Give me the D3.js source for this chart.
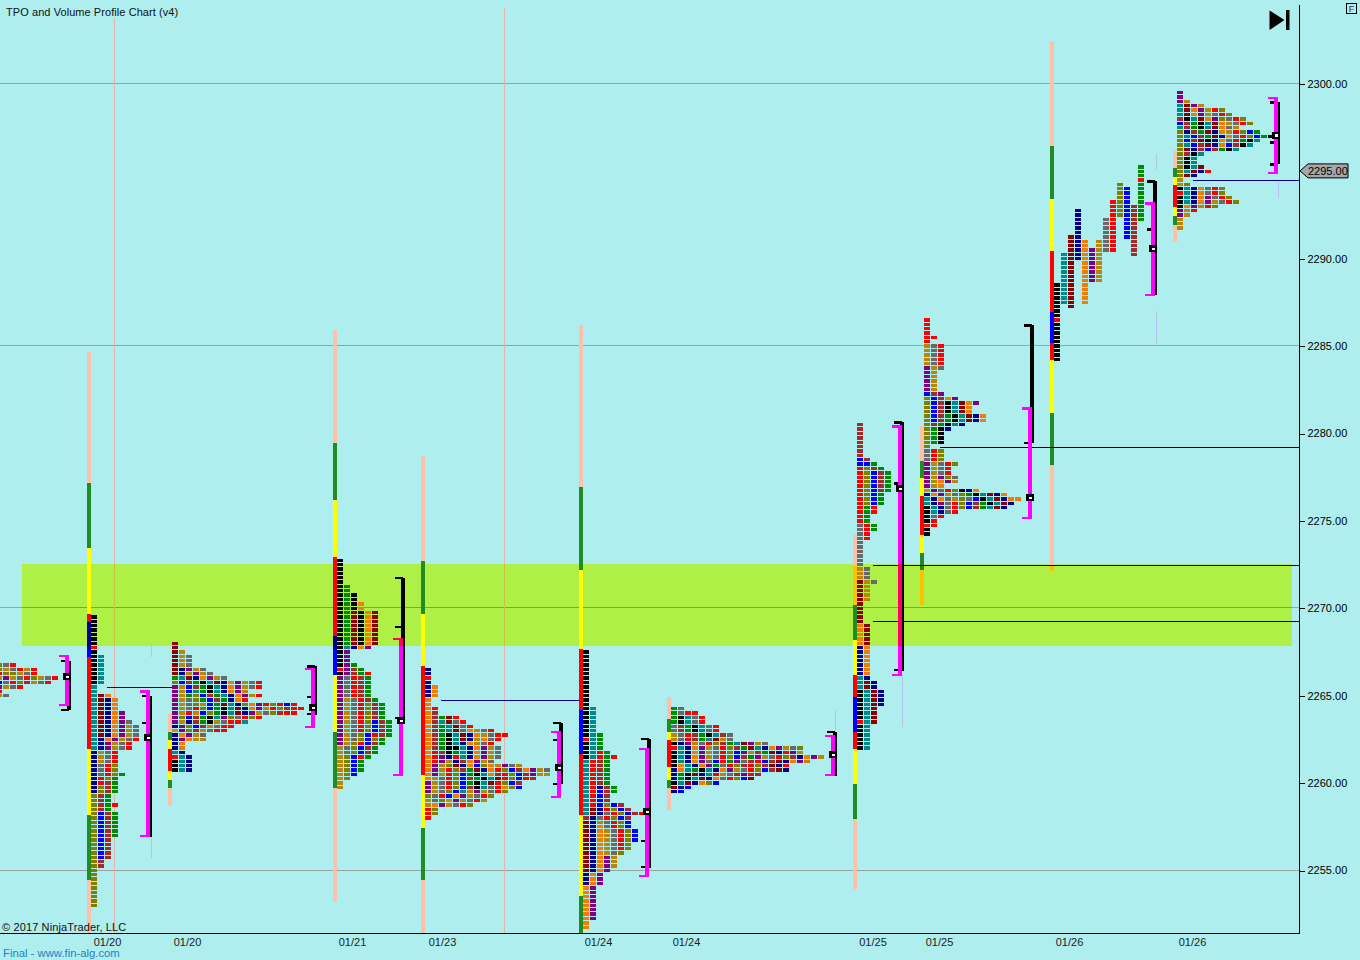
<!DOCTYPE html>
<html><head><meta charset="utf-8">
<script src="https://cdn.jsdelivr.net/npm/d3@7"></script>
<style>html,body{margin:0;padding:0;background:#afeeee;overflow:hidden}svg{display:block}text{font-family:"Liberation Sans",Arial,sans-serif}</style>
</head><body><svg id="c" width="1360" height="960"></svg>
<script>
// ---- palette letters
const tpoColors={k:"#000000",r:"#ff0000",R:"#8b0000",o:"#f57c00",b:"#0000ff",n:"#00008b",g:"#008b00",t:"#008b8b",p:"#800080",y:"#808000",a:"#b8860b",s:"#696969",B:"#a52a2a"};
const barColors={P:"#ffc0a8",G:"#228b22",Y:"#ffff00",R:"#ff0000",N:"#00008b",B:"#0000ff",O:"#ffc000"};
// ---- axis values
const priceTicks=[2300,2295,2290,2285,2280,2275,2270,2265,2260,2255];
const priceGrid=[2300,2285,2270,2255];
const dateTickPos=[107,187,352,442,598,686,872.5,939,1069,1192];
const dateTickLabels=["01/20","01/20","01/21","01/23","01/24","01/24","01/25","01/25","01/26","01/26"];
const sessionLines=[[114,2303.78],[504,2304.35]];
const limeBand=[2272.54,2267.85];
const lastPrice=2295;
// ---- level lines [price,x0,x1,colour]
const levelLines=[[2279.25,940,1299,"#000000"],[2272.5,873,1299,"#000000"],[2269.25,873,1299,"#000000"],[2265.5,107,172,"#00008b"],[2264.75,441,579,"#00008b"],[2294.5,1193,1299,"#00008b"]];
// ---- range bars beside each profile [x, [colour, top, bottom]...]
const bar1=[87,["P",2284.75,2277.25],["G",2277.25,2273.5],["Y",2273.5,2269.75],["R",2269.75,2269.25],["N",2269.25,2267.75],["B",2267.75,2267.25],["R",2267.25,2262],["Y",2262,2258.25],["G",2258.25,2254.5],["P",2254.5,2251.5]];
const bar2=[168,["P",2264,2263],["G",2263,2262.5],["Y",2262.5,2262],["R",2262,2260.75],["Y",2260.75,2260.25],["G",2260.25,2259.75],["P",2259.75,2258.75]];
const bar3=[333,["P",2286,2279.5],["G",2279.5,2276.25],["Y",2276.25,2273],["R",2273,2268.5],["N",2268.5,2267.75],["B",2267.75,2266.25],["Y",2266.25,2263],["G",2263,2259.75],["P",2259.75,2253.25]];
const bar4=[421,["P",2278.75,2272.75],["G",2272.75,2269.75],["Y",2269.75,2266.75],["R",2266.75,2260.5],["Y",2260.5,2257.5],["G",2257.5,2254.5],["P",2254.5,2251.5]];
const bar5=[579,["P",2286.25,2277],["G",2277,2272.25],["Y",2272.25,2267.75],["R",2267.75,2264.25],["B",2264.25,2261.75],["R",2261.75,2258.25],["Y",2258.25,2253.6],["G",2253.6,2251.5]];
const bar6=[667,["P",2265,2263.75],["G",2263.75,2263],["Y",2263,2262.5],["R",2262.5,2261],["Y",2261,2260.25],["G",2260.25,2259.75],["P",2259.75,2258.5]];
const bar7=[853,["P",2274.25,2272.5],["O",2272.5,2270.25],["G",2270.25,2268.25],["Y",2268.25,2266.25],["R",2266.25,2265],["B",2265,2263],["R",2263,2262],["Y",2262,2260],["G",2260,2258],["P",2258,2254]];
const bar8=[920,["P",2280.5,2278.5],["G",2278.5,2277.5],["Y",2277.5,2276.5],["R",2276.5,2274.25],["Y",2274.25,2273.25],["G",2273.25,2272.25],["O",2272.25,2270.25]];
const bar9=[1050,["P",2302.5,2296.5],["G",2296.5,2293.5],["Y",2293.5,2290.5],["R",2290.5,2287],["B",2287,2285.25],["R",2285.25,2284.25],["Y",2284.25,2281.25],["G",2281.25,2278.25],["P",2278.25,2272.5],["O",2272.5,2272.2]];
const bar10=[1173,["P",2296.25,2295.25],["G",2295.25,2294.75],["Y",2294.75,2294.25],["R",2294.25,2293],["Y",2293,2292.5],["G",2292.5,2292],["P",2292,2291]];
const rangeBars=[bar1,bar2,bar3,bar4,bar5,bar6,bar7,bar8,bar9,bar10];
// ---- TPO rows, top row first: each string = one price row, one letter per print
const rowsA=["ysr","yasrar","ryyasr","apasryasr","bsryBasr","pasr","r","as"];
const rows1=["k","k","k","k","k","k","k","r","k","kt","kt","kt","kt","kt","kt","kt","t","t","tRo","tRno","tRno","tRno","tRnop","tRnop","tRnops","tRnopas","tRnopas","tRnopas","tnopasr","tnpasr","tnpasr","nasr","nasr","nasr","nsry","nsry","nsryg","nryg","nrBg","nyBg","nyBg","yBg","yBg","yBgr","yBg","ybBg","ybBg","ybBg","ybBg","ybBg","ybBg","ybB","ybB","ybB","ybB","ybB","yB","yB","y","y","y","y","y","y","y","y","y"];
const rows2=["R","R","Ra","Ras","Ras","Ras","Rnpas","Rnapas","gtRnopas","ybBgktRnopasr","pabBgktnopasr","pabtgktnopa","pagybBgtnopar","pasygbBgnor","pasyabgRtnyopryrbr","pasrybgktRnoparyBrr","parabygktRnpasyBrr","pybBgktpysryr","panBgkasrrt","npybBasrr","opyBasrr","nopas","npoaa","no","no","tn","rtn","ktn","ktn","ktn"];
const rows3=["k","k","k","k","k","k","kg","kg","kgk","kgk","kgko","kgko","kgRkoR","kgRkoR","kgRkoR","kgRkoR","kgRkoR","kgRkoR","kgRkoR","kgRkoR","ktnop","kp","kp","kp","kpg","rpBg","kpBgr","psrBg","psrBg","psrBg","psrBg","psrBg","pasrBg","pasryBg","pasryBg","pasryBg","pasryBg","pasrybBg","pasrybBg","pasrybBg","pasybrBg","pasybyg","payrbBg","asybBg","asybBg","aybrg","aybg","aybg","aybg","ayb","ay","a","a"];
const rows4=["n","n","r","n","no","no","no","o","o","or","oB","oBgRr","oBtRsr","oBgtRsr","oBgtRsoasr","oBgktRnoasrr","oBgktRnaosr","oBgktnoasr","oBgkktnopas","orBkgtnopas","orpnrtnopas","orpanBopas","opayRnobyoapsa","oparyBgRnorybBopas","oparybgktoBrybBpaa","oasrybBgktRrybrB","pasrybgktRrybB","pasrybBktsroyb","pasybtapasry","ysrbopasry","asyopasra","aopasry","ry","ry","r"];
const rows5=["k","k","k","k","k","k","k","k","k","k","k","k","k","kt","kt","kt","kt","kt","kt","ktg","rtg","ktg","ktg","ktrg","ktrgr","trBg","trBg","trBg","trBg","trBg","trBg","trnBg","trbBg","trbB","trbB","trbybB","tRnrybB","tRnsrybBr","BnsrybB","Rnasryb","Rnosryb","Rnoasryb","Rnoasryb","Rnoasryb","Rnoasry","Rnoasry","Rnoasy","Rnopa","Rnopa","Rnopa","Rnop","nop","nop","nop","op","op","op","op","op","op","op","op","o","o"];
const rows6=["gs","gsrr","gktsr","gktsr","sBgktsr","sBgktsr","asrBgktBs","asrBgtRas","knpasryBgtRpas","rtnopasryBgRtnopasy","ktnopasrybpaBgRnrpa","ktnopasrybBgpasryBnopa","ktnopsbrgpsBrbBRnopa","kotnopgsryBryBRnr","notgktnopasrybBRn","ngkRntrasBprB","ngktRnosrybR","ktRnoyb","Rnb","nb"];
const rows7=["B","B","B","B","B","B","B","B","bB","bbg","ryBg","rybBg","rybBg","rybBg","rybBg","rybBg","rybg","rybg","rybg","rgr","rgr","rg","rg","srg","srg","sr","sr","s","s","s","s","s","s","as","as","as","Ras","Ra","Ra","Ra","Ra","R","R","R","R","R","oR","oR","oR","oR","oR","no","no","no","no","no","no","no","tn","tRn","tRn","ktRn","ktRn","ktRn","ktRn","ktR","ktR","ktR","rtR","kt","kt","kt","kt","kt","kt"];
const rows8=["r","r","r","r","rr","r","asr","asr","asr","asr","asr","pas","pa","pa","pa","pa","pa","bBp","ybBop","ybBktRop","ybBktRo","ybBktRo","ybBgktRno","ybBgktRno","yBgktn","ygkn","ygk","ygk","ygk","y","sry","sry","sry","pasry","pasr","pasr","papys","paopa","pao","opsrykno","nopasygktRno","tnosaysbktRnoo","tnpsrybBgktRn","ktnsrybBgtRn","ktnsr","ksr","kr","rr","k","k"];
const rows10=["p","p","pa","tRpa","tRopary","tRopasry","BktRopysry","bBgktRoasry","tBgktRosa","ynBgRnoarybg","ytbBgRnosrybgk","ybBRknosrgkt","ytbBRnobBkt","yRnBbBgkt","yBkt","ykt","ykt","yktR","ytRnr","yRn","a","ay","ktnosry","rtnosry","ktnopsry","ktnopasry","kopary","par","pa","a","a","a"];
// profile 9 is made of long single-letter columns: [letter, top price, bottom price]
const cols9=[["k",2288.5,2284.25],["t",2290.25,2287.5],["R",2291.25,2287.25],["n",2292.75,2290],["o",2291,2287.5],["p",2290.5,2288.75],["a",2291,2288.75],["s",2292.25,2290.5],["r",2293.25,2290.5],["y",2294.25,2292.5],["b",2294,2291.25],["B",2293,2290.25],["g",2295.25,2292.25]];
const cols9Override=[["r",0,2286.5],["r",12,2294.5]];
// ---- profile placement: [first-column x, top price, rows]
const profiles=[[-4,2266.75,rowsA],[91,2269.5,rows1],[172,2268,rows2],[337,2272.75,rows3],[425,2266.5,rows4],[583,2267.5,rows5],[671,2264.25,rows6],[857,2280.5,rows7],[924,2286.5,rows8],[1177,2299.5,rows10]];
const profile9X=1054;
// ---- value-area brackets: x, magenta top/bottom, black top/bottom, poc, black ticks
const brackets=[
[65,2267.28,2264.47,2266.99,2264.19,2266.08,[2266.99,2264.19]],
[146,2265.27,2256.98,2264.99,2256.92,2262.59,[2264.99,2263.44]],
[311,2266.53,2263.22,2266.7,2263.9,2264.3,[2266.7,2264.93,2263.96]],
[399,2268.25,2260.47,2271.74,2263.62,2263.56,[2271.74,2268.94,2263.73]],
[557,2262.93,2259.21,2263.44,2259.95,2260.87,[2263.44,2262.47,2259.95]],
[645,2261.96,2254.69,2262.53,2255.15,2258.35,[2262.53,2256.69,2255.21]],
[831,2262.7,2260.47,2262.93,2260.41,2261.61,[2262.93]],
[898,2280.43,2266.19,2280.66,2266.42,2276.83,[2280.66,2277.17,2266.48]],
[1028,2281.46,2275.17,2286.21,2279.46,2276.32,[2286.21,2279.46]],
[1151,2293.19,2287.93,2294.45,2287.93,2290.56,[2294.45,2291.7]],
[1274,2299.2,2294.91,2298.97,2295.42,2297.08,[2298.97,2296.68,2295.42]]];
// ---- faint thin marks [x, top price, bottom price]
const faintMarks=[[151,2268.1,2267.2],[151,2257,2255.7],[316,2266.9,2265.8],[902,2266.2,2263.2],[835,2264.2,2263],[1156,2296,2295.1],[1156,2287,2285.1],[1278,2294.4,2293.5]];

const W=1300,BOTTOM=934,STEP=0.25;
const svg=d3.select("#c");
const x=d3.scaleLinear().domain([0,W]).range([0,W]);
const y=d3.scaleLinear().domain([2300,2255]).range([84,870.5]);
const crisp=g=>g.attr("shape-rendering","crispEdges");

svg.append("rect").attr("width",1360).attr("height",960).attr("fill","#afeeee");
// grid
const grid=svg.append("g").call(crisp);
grid.selectAll("line").data(priceGrid).join("line").attr("x1",0).attr("x2",x(W))
 .attr("y1",d=>Math.round(y(d))-.5).attr("y2",d=>Math.round(y(d))-.5).attr("stroke","#9aa4a4");
// lime band
const lime=svg.append("g").call(crisp);
lime.append("rect").attr("x",x(22)).attr("width",x(1292)-x(22)).attr("y",y(limeBand[0])).attr("height",y(limeBand[1])-y(limeBand[0])).attr("fill","#aef046");
lime.selectAll("line").data(priceGrid.filter(p=>p<limeBand[0]&&p>limeBand[1])).join("line").attr("x1",x(22)).attr("x2",x(1292))
 .attr("y1",d=>Math.round(y(d))-.5).attr("y2",d=>Math.round(y(d))-.5).attr("stroke","#8ea80a");
// session lines
const sess=svg.append("g").call(crisp);
sess.selectAll("line").data(sessionLines).join("line").attr("x1",d=>x(d[0])+.5).attr("x2",d=>x(d[0])+.5)
 .attr("y1",d=>y(d[1])).attr("y2",BOTTOM).attr("stroke","#e6b4ac");
sess.selectAll("line.l").data(sessionLines).join("line").attr("class","l").attr("x1",d=>x(d[0])+.5).attr("x2",d=>x(d[0])+.5)
 .attr("y1",y(limeBand[0])).attr("y2",y(limeBand[1])).attr("stroke","#c8c048");
// faint marks
svg.append("g").selectAll("line").data(faintMarks).join("line").attr("x1",d=>x(d[0])+.5).attr("x2",d=>x(d[0])+.5)
 .attr("y1",d=>y(d[1])).attr("y2",d=>y(d[2])).attr("stroke","#b4c4f0").attr("shape-rendering","crispEdges");
// range bars
const segs=rangeBars.flatMap(b=>b.slice(1).map(s=>({x:b[0],c:s[0],t:s[1],b:s[2]})));
svg.append("g").call(crisp).selectAll("rect").data(segs).join("rect")
 .attr("x",d=>x(d.x)).attr("width",4)
 .attr("y",d=>Math.round(y(d.t))+1).attr("height",d=>Math.round(y(d.b))-Math.round(y(d.t)))
 .attr("fill",d=>barColors[d.c]);
// TPO cells
const rowTop=p=>Math.round(y(p)-1.75);
const cells=[];
profiles.forEach(([px,top,rows])=>rows.forEach((row,i)=>[...row].forEach((ch,j)=>cells.push({x:px+j*7,p:top-i*STEP,c:ch}))));
cols9.forEach(([ch,t,b],j)=>{for(let p=t;p>=b;p-=STEP)cells.push({x:profile9X+j*7,p,c:ch});});
cols9Override.forEach(([ch,j,t])=>cells.push({x:profile9X+j*7,p:t,c:ch}));
svg.append("g").call(crisp).selectAll("rect").data(cells).join("rect")
 .attr("x",d=>x(d.x)).attr("width",6)
 .attr("y",d=>rowTop(d.p)).attr("height",d=>rowTop(d.p-STEP)-rowTop(d.p)-1)
 .attr("fill",d=>tpoColors[d.c]);
// level lines
svg.append("g").call(crisp).selectAll("line").data(levelLines).join("line")
 .attr("x1",d=>x(d[1])).attr("x2",d=>x(d[2])).attr("y1",d=>Math.round(y(d[0]))+.5).attr("y2",d=>Math.round(y(d[0]))+.5).attr("stroke",d=>d[3]);
// brackets
const br=svg.append("g").call(crisp);
const MAG="#ff00ff",MAGLIME="#ff0060";
brackets.forEach(([bx,mt,mb,kt,kb,poc,ticks])=>{
  const g=br.append("g");
  g.append("rect").attr("x",x(bx+2)).attr("width",4).attr("y",y(kt)).attr("height",y(kb)-y(kt)).attr("fill","#000");
  g.selectAll("rect.t").data(ticks).join("rect").attr("class","t").attr("x",x(bx-4)).attr("width",8).attr("y",d=>y(d)-1).attr("height",2.5).attr("fill","#000");
  g.append("rect").attr("x",x(bx)).attr("width",4).attr("y",y(mt)).attr("height",y(mb)-y(mt)).attr("fill",MAG);
  const lt=Math.min(mt,limeBand[0]),lb=Math.max(mb,limeBand[1]);
  if(lt>lb) g.append("rect").attr("x",x(bx)).attr("width",4).attr("y",y(lt)).attr("height",y(lb)-y(lt)).attr("fill",MAGLIME);
  g.selectAll("rect.s").data([mt,mb]).join("rect").attr("class","s").attr("x",x(bx-6)).attr("width",10).attr("y",d=>y(d)-1).attr("height",2.5)
   .attr("fill",d=>(d<limeBand[0]&&d>limeBand[1])?MAGLIME:MAG);
  g.append("rect").attr("x",x(bx-2)).attr("width",8).attr("y",y(poc)-3.5).attr("height",7).attr("fill","#000");
  g.append("rect").attr("x",x(bx)+1).attr("width",3).attr("y",y(poc)-1).attr("height",2.5).attr("fill","#fff");
});
// axes
const yAxis=d3.axisRight(y).tickValues(priceTicks).tickSize(5).tickFormat(d3.format(".2f"));
const ya=svg.append("g").attr("transform",`translate(${W-.5},0)`).call(yAxis);
ya.select(".domain").remove();
ya.selectAll("text").attr("x",8).attr("dy","0.3em").attr("fill","#000").style("font-size","11px");
ya.selectAll("line").attr("stroke","#000").attr("shape-rendering","crispEdges");
ya.selectAll(".tick").filter(d=>d===lastPrice).select("text").remove();
ya.selectAll(".tick").filter(d=>d===lastPrice).select("line").remove();
svg.append("line").attr("x1",W-.5).attr("x2",W-.5).attr("y1",5).attr("y2",BOTTOM).attr("stroke","#000").attr("shape-rendering","crispEdges");
const xAxis=d3.axisBottom(x).tickValues(dateTickPos).tickSize(0).tickFormat((d,i)=>dateTickLabels[i]);
const xa=svg.append("g").attr("transform",`translate(0,${BOTTOM-1})`).call(xAxis);
xa.select(".domain").attr("d",`M0,.5H${W}`).attr("stroke","#000").attr("shape-rendering","crispEdges");
xa.selectAll("text").attr("y",5).attr("fill","#222").style("font-size","11px");
// last price marker
const ly=y(lastPrice);
svg.append("path").attr("d",`M1300,${ly-.5}L1308,${ly-7.5}H1348V${ly+6.5}H1308Z`).attr("fill","#a6a6a6").attr("stroke","#000");
svg.append("text").attr("x",1308).attr("y",ly+3.5).attr("font-size",11).text(d3.format(".2f")(lastPrice));
// header & credits
svg.append("text").attr("x",6).attr("y",16).attr("font-size",11).attr("fill","#111").attr("letter-spacing","0.07").text("TPO and Volume Profile Chart (v4)");
svg.append("text").attr("x",2).attr("y",931).attr("font-size",11).attr("fill","#111").attr("letter-spacing","0.13").text("© 2017 NinjaTrader, LLC");
svg.append("text").attr("x",3).attr("y",957).attr("font-size",11.3).attr("fill","#2a7fc0").text("Final - www.fin-alg.com");
// go-to-end button
svg.append("path").attr("d","M1269.5,10.5L1284.5,20L1269.5,30Z").attr("fill","#000");
svg.append("rect").attr("x",1286).attr("y",10).attr("width",3.5).attr("height",20).attr("fill","#000");
// F box
svg.append("rect").attr("x",1346.5).attr("y",3.5).attr("width",10).attr("height",10).attr("fill","none").attr("stroke","#000").attr("shape-rendering","crispEdges");
svg.append("text").attr("x",1351.5).attr("y",12).attr("text-anchor","middle").attr("font-size",9).attr("fill","#333").text("F");
</script></body></html>
